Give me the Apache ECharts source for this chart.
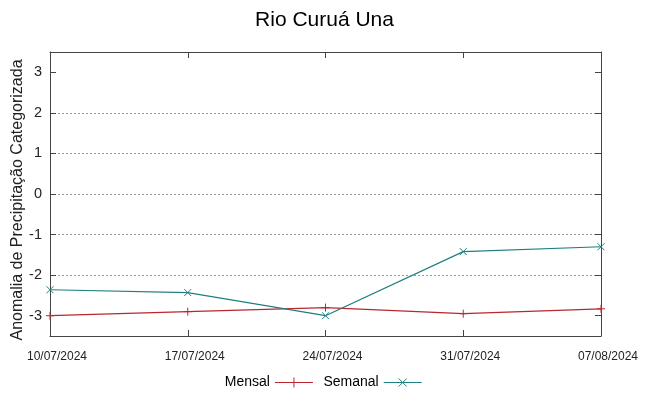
<!DOCTYPE html>
<html><head><meta charset="utf-8">
<script src="https://cdn.jsdelivr.net/npm/echarts@6/dist/echarts.min.js"></script>
<style>html,body{margin:0;padding:0;background:#fff}#c{width:649px;height:396px}</style>
</head><body><div id="c"></div>
<script>
const categories = ['10/07/2024','17/07/2024','24/07/2024','31/07/2024','07/08/2024'];
const mensal = [-3.0, -2.9, -2.8, -2.95, -2.83];
const semanal = [-2.36, -2.43, -3.0, -1.42, -1.30];
const yTicks = [-3, -2, -1, 0, 1, 2, 3];
const yTitle = 'Anomalia de Precipitação Categorizada';

const red = '#b8282e';
const teal = '#1f7f80';
const plusPath = 'path://M0,5L10,5M5,0L5,10';
const xPath = 'path://M0,0L10,10M0,10L10,0';
const font = 'Liberation Sans, Arial, sans-serif';

const chart = echarts.init(document.getElementById('c'));
chart.setOption({
  animation: false,
  title: {text: 'Rio Curuá Una', left: 'center', top: 5,
    textStyle: {fontFamily: font, fontWeight: 'normal', fontSize: 21, color: '#000'}},
  grid: {left: 50, right: 48, top: 52, bottom: 60, outerBoundsMode: 'none', containLabel: false},
  graphic: [{
    type: 'text', x: 18, y: 200, rotation: Math.PI / 2,
    style: {text: yTitle, fontFamily: font, fontSize: 16, fill: '#222',
      align: 'center', verticalAlign: 'middle'}
  }],
  legend: {
    bottom: 1, left: 'center', align: 'right', itemGap: 8, itemWidth: 38, itemHeight: 10,
    textStyle: {fontFamily: font, fontSize: 14, color: '#000'},
    data: [
      {name: 'Mensal', icon: 'path://M0,5L38,5M19,0L19,10', itemStyle: {color: 'none', borderColor: red, borderWidth: 1}},
      {name: 'Semanal', icon: 'path://M0,5L38,5M15,1L23,9M15,9L23,1', itemStyle: {color: 'none', borderColor: teal, borderWidth: 1}}
    ]
  },
  xAxis: [{
    type: 'category', data: categories, boundaryGap: false,
    axisLine: {onZero: false, lineStyle: {color: '#444', width: 1}},
    axisTick: {inside: true, length: 6, lineStyle: {color: '#444'}},
    axisLabel: {fontFamily: font, fontSize: 12, color: '#222', margin: 15, padding: [0, 0, 0, 14]},
    splitLine: {show: false}
  }, {
    type: 'category', data: categories, boundaryGap: false, position: 'top',
    axisLine: {onZero: false, lineStyle: {color: '#444', width: 1}},
    axisTick: {inside: true, length: 6, lineStyle: {color: '#444'}},
    axisLabel: {show: false}, splitLine: {show: false}
  }],
  yAxis: [{
    type: 'value', min: -3.5, max: 3.5,
    axisLine: {show: true, onZero: false, lineStyle: {color: '#444', width: 1}},
    axisTick: {show: true, inside: true, length: 6, lineStyle: {color: '#444'},
      customValues: yTicks},
    axisLabel: {fontFamily: font, fontSize: 14.5, color: '#222', margin: 8, customValues: yTicks},
    splitLine: {show: true, lineStyle: {type: [2, 2], color: '#999', width: 1}, showMinLine: false, showMaxLine: false}
  }, {
    type: 'value', min: -3.5, max: 3.5, position: 'right',
    axisLine: {show: true, onZero: false, lineStyle: {color: '#444', width: 1}},
    axisTick: {show: true, inside: true, length: 6, lineStyle: {color: '#444'}, customValues: yTicks},
    axisLabel: {show: false}, splitLine: {show: false}
  }],
  series: [{
    name: 'Mensal', type: 'line', data: mensal, symbol: plusPath, symbolSize: 8,
    lineStyle: {color: red, width: 1.2}, itemStyle: {color: 'none', borderColor: red, borderWidth: 1},
    z: 3
  }, {
    name: 'Semanal', type: 'line', data: semanal, symbol: xPath, symbolSize: 7,
    lineStyle: {color: teal, width: 1.2}, itemStyle: {color: 'none', borderColor: teal, borderWidth: 1},
    z: 4
  }]
});
</script></body></html>
